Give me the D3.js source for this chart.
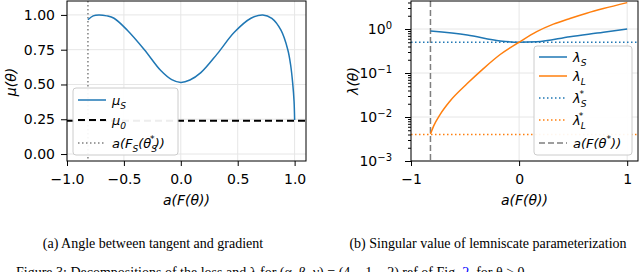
<!DOCTYPE html>
<html>
<head>
<meta charset="utf-8">
<script src="https://cdn.jsdelivr.net/npm/d3@7"></script>
<style>
  body { margin: 0; background: #fff; }
  svg { display: block; }
  .tick text { font-family: "DejaVu Sans", sans-serif; font-size: 14px; fill: #000; }
  .math { font-family: "DejaVu Sans", sans-serif; font-style: italic; fill: #000; }
  .cap { font-family: "Liberation Serif", "Times New Roman", serif; font-size: 14px; fill: #000; }
</style>
</head>
<body>
<div id="graph"></div>
<script>
// two panels: mu(theta) on the left, lambda(theta) (log) on the right

const W = 640, H = 272

// ---- data -------------------------------------------------------------------
const muX   = [-0.816, -0.77, -0.72, -0.65, -0.587, -0.47, -0.32, -0.176, -0.08, 0,
               0.08, 0.176, 0.32, 0.47, 0.616, 0.72, 0.80, 0.88, 0.94, 0.965, 0.983, 0.995, 1.0]
const muS   = [0.965, 0.993, 1.0, 0.993, 0.976, 0.89, 0.75, 0.60, 0.535, 0.515,
               0.532, 0.585, 0.72, 0.875, 0.976, 1.0, 0.975, 0.89, 0.75, 0.64, 0.51, 0.38, 0.245]
const mu0   = 0.24
const thetaSStar = -0.816
const muXTicks = [-1.0, -0.5, 0.0, 0.5, 1.0]
const muYTicks = [0.00, 0.25, 0.50, 0.75, 1.00]

const lamLX = [-0.82, -0.79, -0.73, -0.64, -0.48, -0.33, -0.175, 0, 0.163, 0.317, 0.47, 0.625, 0.78, 1.0]
const lamL  = [0.0041, 0.0063, 0.0115, 0.0229, 0.0575, 0.126, 0.263, 0.5, 0.871, 1.29, 1.74, 2.29, 2.92, 3.98]
const lamSX = [-0.82, -0.48, -0.175, 0, 0.163, 0.47, 0.78, 1.0]
const lamS  = [0.90, 0.73, 0.537, 0.5, 0.513, 0.668, 0.84, 1.0]
const lamSStar = 0.5
const lamLStar = 0.004
const thetaStar = -0.82
const lamXTicks = [-1, 0, 1]
const lamYTicks = [1e-3, 1e-2, 1e-1, 1e0]

const blue = '#1f77b4', orange = '#ff7f0e', grey = '#7f7f7f'

const svg = d3.select('#graph').append('svg').attr('width', W).attr('height', H)

// ---- helpers ----------------------------------------------------------------
// parts: [text, kind('sub'|'sup'|null), dx]
function math(sel, parts, size) {
  let cur = 0
  parts.forEach(([t, k, dx]) => {
    const target = k === 'sub' ? size*0.3 : k === 'sup' ? -size*0.45 : 0
    const ts = sel.append('tspan').attr('dy', target - cur).text(t)
    if (k) ts.attr('font-size', size*0.7)
    if (dx) ts.attr('dx', dx)
    cur = target
  })
  return sel
}

function grid(g, xs, ys, xt, yt, x0, x1, y0, y1) {
  g.selectAll('.gx').data(xt).join('line').attr('class', 'gx')
    .attr('x1', d => xs(d)).attr('x2', d => xs(d)).attr('y1', y0).attr('y2', y1)
    .attr('stroke', '#e6e6e6').attr('stroke-width', 1)
  g.selectAll('.gy').data(yt).join('line').attr('class', 'gy')
    .attr('y1', d => ys(d)).attr('y2', d => ys(d)).attr('x1', x0).attr('x2', x1)
    .attr('stroke', '#e6e6e6').attr('stroke-width', 1)
}

function frame(g, x0, x1, y0, y1) {
  g.append('rect').attr('x', x0).attr('y', y0).attr('width', x1 - x0).attr('height', y1 - y0)
    .attr('fill', 'none').attr('stroke', '#000').attr('stroke-width', 1)
}

function legend(g, x, y, w, h, items) {
  g.append('rect').attr('x', x).attr('y', y).attr('width', w).attr('height', h).attr('rx', 3)
    .attr('fill', '#fff').attr('fill-opacity', 0.93).attr('stroke', '#cccccc')
  items.forEach(it => {
    g.append('line').attr('x1', x + 5).attr('x2', x + 33).attr('y1', it.y).attr('y2', it.y)
      .attr('stroke', it.color).attr('stroke-width', it.w || 1.5)
      .attr('stroke-dasharray', it.dash || null)
    math(g.append('text').attr('class', 'math').attr('x', x + 39).attr('y', it.y + 5)
      .attr('font-size', 13), it.parts, 13)
  })
}

// ---- left panel ---------------------------------------------------------------
{
  const x0 = 67, x1 = 306, y0 = 1, y1 = 161
  const xs = d3.scaleLinear([-1, 1.1], [x0, x1])
  const ys = d3.scaleLinear([-0.05, 1.1], [y1, y0])
  const g = svg.append('g')
  grid(g, xs, ys, muXTicks, muYTicks, x0, x1, y0, y1)

  g.append('line').attr('x1', xs(thetaSStar)).attr('x2', xs(thetaSStar)).attr('y1', y0).attr('y2', y1)
    .attr('stroke', grey).attr('stroke-width', 1.5).attr('stroke-dasharray', '1.5,2.5')
  g.append('line').attr('x1', x0).attr('x2', x1).attr('y1', ys(mu0)).attr('y2', ys(mu0))
    .attr('stroke', '#000').attr('stroke-width', 2).attr('stroke-dasharray', '7,4')
  const line = d3.line().x((d, i) => xs(muX[i])).y(d => ys(d)).curve(d3.curveCatmullRom)
  g.append('path').attr('d', line(muS)).attr('fill', 'none').attr('stroke', blue).attr('stroke-width', 1.5)

  frame(g, x0, x1, y0, y1)
  g.append('g').attr('transform', `translate(0,${y1})`)
    .call(d3.axisBottom(xs).tickValues(muXTicks).tickSize(5).tickPadding(8)
      .tickFormat(d => d3.format('.1f')(d).replace('-', '\u2212')))
    .call(a => a.select('.domain').remove())
  g.append('g').attr('transform', `translate(${x0},0)`)
    .call(d3.axisLeft(ys).tickValues(muYTicks).tickSize(6).tickPadding(6).tickFormat(d3.format('.2f')))
    .call(a => a.select('.domain').remove())

  math(g.append('text').attr('class', 'math').attr('font-size', 14).attr('text-anchor', 'middle')
    .attr('transform', 'translate(16,82) rotate(-90)'), [['μ(θ)']], 14)
  math(g.append('text').attr('class', 'math').attr('font-size', 14).attr('text-anchor', 'middle')
    .attr('x', (x0 + x1) / 2).attr('y', 205), [['a(F(θ))']], 14)

  legend(g, 73, 88, 105, 67, [
    { y: 100, color: blue, parts: [['μ'], ['S', 'sub']] },
    { y: 120, color: '#000', w: 2, dash: '7,4', parts: [['μ'], ['0', 'sub']] },
    { y: 143, color: grey, dash: '1.5,2.5', parts: [['a(F'], ['S', 'sub'], ['(θ', null], ['S', 'sub'], ['*', 'sup', -7], ['))', null]] }
  ])
}

// ---- right panel --------------------------------------------------------------
{
  const x0 = 411, x1 = 638, y0 = 1, y1 = 161
  const xs = d3.scaleLinear([-1, 1.1], [x0, x1])
  const ys = d3.scaleLog([1e-3, Math.pow(10, 160/44 - 3)], [y1, y0])
  const g = svg.append('g')
  grid(g, xs, ys, lamXTicks, lamYTicks, x0, x1, y0, y1)

  g.append('line').attr('x1', x0).attr('x2', x1).attr('y1', ys(lamSStar)).attr('y2', ys(lamSStar))
    .attr('stroke', blue).attr('stroke-width', 1.5).attr('stroke-dasharray', '1.5,2.5')
  g.append('line').attr('x1', x0).attr('x2', x1).attr('y1', ys(lamLStar)).attr('y2', ys(lamLStar))
    .attr('stroke', orange).attr('stroke-width', 1.5).attr('stroke-dasharray', '1.5,2.5')
  g.append('line').attr('x1', xs(thetaStar)).attr('x2', xs(thetaStar)).attr('y1', y0).attr('y2', y1)
    .attr('stroke', grey).attr('stroke-width', 1.5).attr('stroke-dasharray', '6,3')

  const lS = d3.line().x((d, i) => xs(lamSX[i])).y(d => ys(d)).curve(d3.curveMonotoneX)
  const lL = d3.line().x((d, i) => xs(lamLX[i])).y(d => ys(d)).curve(d3.curveMonotoneX)
  g.append('path').attr('d', lS(lamS)).attr('fill', 'none').attr('stroke', blue).attr('stroke-width', 1.5)
  g.append('path').attr('d', lL(lamL)).attr('fill', 'none').attr('stroke', orange).attr('stroke-width', 1.5)

  frame(g, x0, x1, y0, y1)
  g.append('g').attr('transform', `translate(0,${y1})`)
    .call(d3.axisBottom(xs).tickValues(lamXTicks).tickSize(5).tickPadding(8)
      .tickFormat(d => String(d).replace('-', '\u2212')))
    .call(a => a.select('.domain').remove())

  const minors = []
  for (let e = -3; e <= 0; e++) for (let m = 2; m <= 9; m++) {
    const v = m * Math.pow(10, e)
    if (v < ys.domain()[1]) minors.push(v)
  }
  g.append('g').attr('transform', `translate(${x0},0)`)
    .call(d3.axisLeft(ys).tickValues(minors).tickSize(3).tickFormat(''))
    .call(a => a.select('.domain').remove())
  g.append('g').attr('transform', `translate(${x0},0)`)
    .call(d3.axisLeft(ys).tickValues(lamYTicks).tickSize(6).tickPadding(6).tickFormat(() => '10'))
    .call(a => a.select('.domain').remove())
    .call(a => a.selectAll('.tick text').attr('dx', '-0.5em').each(function (d) {
      const e = Math.round(Math.log10(d))
      d3.select(this).append('tspan').attr('dy', '-0.45em').attr('font-size', '10px')
        .text(e < 0 ? '\u2212' + (-e) : String(e))
    }))

  math(g.append('text').attr('class', 'math').attr('font-size', 14).attr('text-anchor', 'middle')
    .attr('transform', 'translate(358,81) rotate(-90)'), [['λ(θ)']], 14)
  math(g.append('text').attr('class', 'math').attr('font-size', 14).attr('text-anchor', 'middle')
    .attr('x', (x0 + x1) / 2).attr('y', 205), [['a(F(θ))']], 14)

  legend(g, 534, 46, 98, 109, [
    { y: 57, color: blue, parts: [['λ'], ['S', 'sub']] },
    { y: 76, color: orange, parts: [['λ'], ['L', 'sub']] },
    { y: 98, color: blue, dash: '1.5,2.5', parts: [['λ'], ['S', 'sub'], ['*', 'sup', -7]] },
    { y: 120, color: orange, dash: '1.5,2.5', parts: [['λ'], ['L', 'sub'], ['*', 'sup', -7]] },
    { y: 143, color: grey, dash: '6,3', parts: [['a(F(θ'], ['*', 'sup'], ['))', null]] }
  ])
}

// ---- captions -----------------------------------------------------------------
svg.append('text').attr('class', 'cap').attr('x', 153).attr('y', 248).attr('text-anchor', 'middle')
  .text('(a) Angle between tangent and gradient')
svg.append('text').attr('class', 'cap').attr('x', 488).attr('y', 248).attr('text-anchor', 'middle')
  .text('(b) Singular value of lemniscate parameterization')
const fig = svg.append('text').attr('class', 'cap').attr('x', 16).attr('y', 277)
fig.append('tspan').text('Figure 3: Decompositions of the loss and λ for (α, β, γ) = (4, −1, −2) ref of Fig. ')
fig.append('tspan').attr('fill', '#0000ff').text('2')
fig.append('tspan').text(', for θ > 0')
</script>
</body>
</html>
